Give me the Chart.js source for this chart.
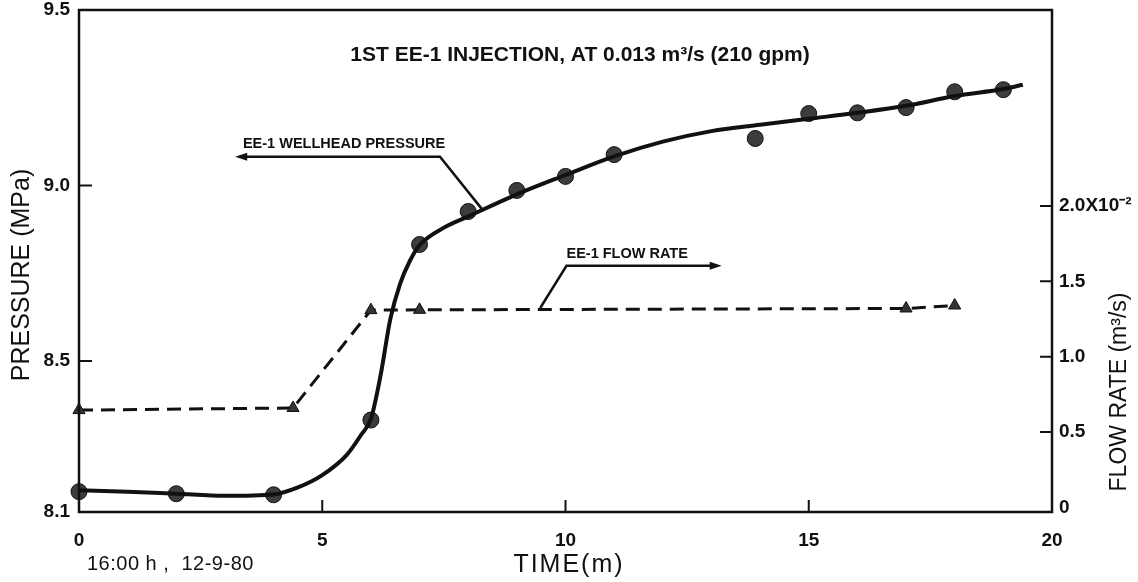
<!DOCTYPE html>
<html>
<head>
<meta charset="utf-8">
<title>EE-1 injection</title>
<script src="https://cdn.jsdelivr.net/npm/chart.js@4.4.1/dist/chart.umd.min.js"></script>
<style>
    html, body { margin: 0; padding: 0; background: #fff; }
    #wrap { width: 1138px; height: 582px; position: relative; }
</style>
</head>
<body>
<div id="wrap"><canvas id="injChart"></canvas></div>
<script>
// measured wellhead pressure (circles), MPa
const pressTime = [0, 2, 4, 6, 7, 8, 9, 10, 11, 13.9, 15, 16, 17, 18, 19];
const pressMPa = [8.128, 8.122, 8.119, 8.332, 8.832, 8.926, 8.986, 9.026, 9.088, 9.134, 9.205, 9.207, 9.222, 9.267, 9.273];

// faired pressure curve
const curveTime = [0, 1, 2, 3, 4, 4.5, 5, 5.5, 5.8, 6, 6.2, 6.4, 6.6, 6.8, 7, 7.5, 8, 9, 10, 11, 12, 13, 14, 15, 16, 17, 18, 19, 19.4];
const curveMPa = [8.132, 8.128, 8.122, 8.116, 8.12, 8.14, 8.175, 8.232, 8.29, 8.335, 8.46, 8.62, 8.72, 8.785, 8.83, 8.88, 8.912, 8.975, 9.03, 9.083, 9.125, 9.155, 9.173, 9.19, 9.207, 9.227, 9.255, 9.275, 9.287];

// flow rate (triangles), x10^-2 m3/s
const flowTime = [0, 4.4, 6, 7, 17, 18];
const flowRate = [0.646, 0.66, 1.309, 1.311, 1.32, 1.34];

// axis ticks
const timeTicks = [0, 5, 10, 15, 20];
const pressTicks = [8.07, 8.5, 9.0, 9.5];
const flowTicks = [0, 0.5, 1.0, 1.5, 2.0];

const FONT = "'Liberation Sans', Arial, sans-serif";

function pts(xs, ys) {
    return xs.map((x, i) => ({ x: x, y: ys[i] }));
}

// y axes: keep the tick padding from pushing the plot box down
function fixWidth(w) {
    return s => { s.width = w; s.paddingTop = 0; s.paddingBottom = 0; };
}

function rotText(c, txt, x, y, font, spacing) {
    c.save();
    c.translate(x, y);
    c.rotate(-Math.PI / 2);
    c.font = font;
    c.letterSpacing = spacing || '0px';
    c.fillText(txt, 0, 0);
    c.restore();
}

// frame, inward tick marks and the loose text on the figure
const paperPlugin = {
    id: 'paper',
    afterDraw(chart) {
        const c = chart.ctx;
        const a = chart.chartArea;
        const sx = chart.scales.x, sp = chart.scales.yP, sf = chart.scales.yF;
        c.save();
        c.strokeStyle = '#111';
        c.fillStyle = '#111';
        c.lineWidth = 2.5;
        c.strokeRect(a.left, a.top, a.right - a.left, a.bottom - a.top);

        c.lineWidth = 2;
        c.beginPath();
        [8.5, 9.0].forEach(v => {
            const y = sp.getPixelForValue(v);
            c.moveTo(a.left, y); c.lineTo(a.left + 13, y);
        });
        [0.5, 1.0, 1.5, 2.0].forEach(v => {
            const y = sf.getPixelForValue(v);
            c.moveTo(a.right - 12, y); c.lineTo(a.right, y);
        });
        [5, 10, 15].forEach(v => {
            const x = sx.getPixelForValue(v);
            c.moveTo(x, a.bottom); c.lineTo(x, a.bottom - 12);
        });
        c.stroke();

        // title
        c.font = 'bold 21px ' + FONT;
        c.textAlign = 'center';
        c.textBaseline = 'middle';
        c.fillText('1ST EE-1 INJECTION, AT 0.013 m³/s (210 gpm)', 580, 55);

        // axis titles
        c.font = '25px ' + FONT;
        c.letterSpacing = '2px';
        c.fillText('TIME(m)', 569, 565);
        c.letterSpacing = '0px';
        rotText(c, 'PRESSURE (MPa)', 22, 275, '25px ' + FONT);
        rotText(c, 'FLOW RATE (m³/s)', 1120, 392, '23px ' + FONT);

        c.font = '20px ' + FONT;
        c.textAlign = 'left';
        c.letterSpacing = '0.5px';
        c.fillText('16:00 h ,  12-9-80', 87, 564);
        c.letterSpacing = '0px';

        // wellhead pressure arrow
        c.lineWidth = 2.5;
        const wx0 = sx.getPixelForValue(3.21), wx1 = sx.getPixelForValue(7.42), wx2 = sx.getPixelForValue(8.3);
        const wy = sp.getPixelForValue(9.082), wy2 = sp.getPixelForValue(8.93);
        c.beginPath();
        c.moveTo(wx0 + 8, wy); c.lineTo(wx1, wy); c.lineTo(wx2, wy2);
        c.stroke();
        c.beginPath();
        c.moveTo(wx0, wy); c.lineTo(wx0 + 12, wy - 4); c.lineTo(wx0 + 12, wy + 4); c.closePath();
        c.fill();
        c.font = 'bold 14.5px ' + FONT;
        c.textBaseline = 'alphabetic';
        c.fillText('EE-1 WELLHEAD PRESSURE', sx.getPixelForValue(3.37), wy - 9);

        // flow rate arrow
        const fx0 = sx.getPixelForValue(9.48), fx1 = sx.getPixelForValue(10.02), fx2 = sx.getPixelForValue(13.21);
        const fy0 = sf.getPixelForValue(1.323), fy1 = sf.getPixelForValue(1.603);
        c.beginPath();
        c.moveTo(fx0, fy0); c.lineTo(fx1, fy1); c.lineTo(fx2 - 8, fy1);
        c.stroke();
        c.beginPath();
        c.moveTo(fx2, fy1); c.lineTo(fx2 - 12, fy1 - 4); c.lineTo(fx2 - 12, fy1 + 4); c.closePath();
        c.fill();
        c.fillText('EE-1 FLOW RATE', fx1, fy1 - 8);
        c.restore();
    }
};

const tickFont = { family: FONT, size: 19, weight: 'bold' };

const ctx = document.getElementById('injChart').getContext('2d');
const injChart = new Chart(ctx, {
    type: 'scatter',
    data: {
        datasets: [
            {
                label: 'curve',
                data: pts(curveTime, curveMPa),
                yAxisID: 'yP',
                showLine: true,
                borderColor: '#111',
                borderWidth: 4,
                pointRadius: 0,
                cubicInterpolationMode: 'monotone',
                clip: false
            },
            {
                label: 'EE-1 WELLHEAD PRESSURE',
                data: pts(pressTime, pressMPa),
                yAxisID: 'yP',
                pointRadius: 8,
                pointBackgroundColor: '#3c3c3c',
                pointBorderColor: '#111',
                pointBorderWidth: 1,
                clip: false
            },
            {
                label: 'EE-1 FLOW RATE',
                data: pts(flowTime, flowRate),
                yAxisID: 'yF',
                showLine: true,
                borderColor: '#111',
                borderWidth: 3,
                borderDash: [14, 8],
                tension: 0,
                pointStyle: 'triangle',
                pointRadius: 7,
                pointBackgroundColor: '#333',
                pointBorderColor: '#111',
                pointBorderWidth: 1,
                clip: false
            }
        ]
    },
    options: {
        responsive: true,
        maintainAspectRatio: false,
        animation: false,
        layout: { padding: { top: 10, left: 0, right: 0, bottom: 0 }, autoPadding: false },
        plugins: {
            legend: { display: false },
            tooltip: { enabled: false }
        },
        scales: {
            x: {
                type: 'linear',
                min: 0,
                max: 20,
                afterFit: s => { s.height = 70; },
                afterBuildTicks: s => { s.ticks = timeTicks.map(v => ({ value: v })); },
                grid: { display: false, drawTicks: false },
                border: { display: false },
                ticks: {
                    padding: 17,
                    color: '#111',
                    font: tickFont,
                    callback: v => String(v)
                }
            },
            yP: {
                type: 'linear',
                position: 'left',
                min: 8.07,
                max: 9.5,
                afterFit: fixWidth(79),
                afterBuildTicks: s => { s.ticks = pressTicks.map(v => ({ value: v })); },
                grid: { display: false, drawTicks: false },
                border: { display: false },
                ticks: {
                    padding: 9,
                    color: '#111',
                    font: tickFont,
                    callback: v => v.toFixed(1)
                }
            },
            yF: {
                type: 'linear',
                position: 'right',
                min: -0.03,
                max: 3.3,
                afterFit: fixWidth(86),
                afterBuildTicks: s => { s.ticks = flowTicks.map(v => ({ value: v })); },
                grid: { display: false, drawTicks: false },
                border: { display: false },
                ticks: {
                    padding: 7,
                    color: '#111',
                    font: tickFont,
                    callback: v => v === 0 ? '0' : (v === 2 ? '2.0X10⁻²' : v.toFixed(1))
                }
            }
        }
    },
    plugins: [paperPlugin]
});
</script>
</body>
</html>
